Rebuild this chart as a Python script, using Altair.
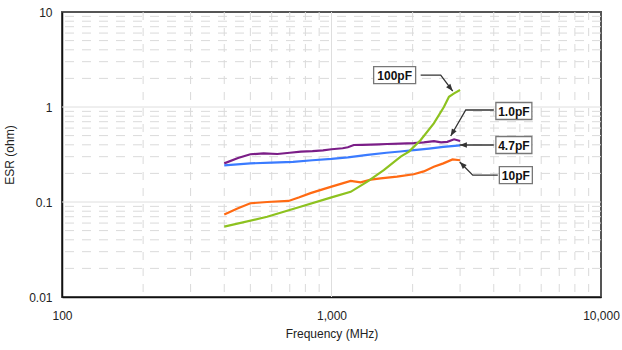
import altair as alt
import pandas as pd

# ESR versus frequency for four capacitor values
f_1p0 = [400, 450, 500, 560, 630, 700, 770, 850, 930, 1000, 1100, 1150, 1210, 1300,
         1400, 1500, 1610, 1800, 2020, 2200, 2400, 2550, 2690, 2850, 3000]
esr_1p0 = [0.255, 0.29, 0.318, 0.325, 0.32, 0.33, 0.339, 0.343, 0.35, 0.359, 0.368, 0.377,
           0.398, 0.40, 0.402, 0.405, 0.408, 0.412, 0.417, 0.425, 0.438, 0.425, 0.43, 0.457, 0.438]

f_4p7 = [400, 500, 600, 720, 850, 1000, 1150, 1360, 1600, 1800, 2020, 2300, 2600, 3000]
esr_4p7 = [0.243, 0.255, 0.26, 0.265, 0.275, 0.284, 0.295, 0.313, 0.33, 0.34, 0.352, 0.365,
           0.38, 0.395]

f_10 = [400, 450, 500, 577, 693, 760, 836, 920, 1000, 1090, 1178, 1282, 1400, 1521, 1750,
        2018, 2200, 2397, 2600, 2813, 3000]
esr_10 = [0.074, 0.086, 0.097, 0.1, 0.1026, 0.112, 0.124, 0.135, 0.145, 0.156, 0.167, 0.161,
          0.172, 0.177, 0.185, 0.196, 0.21, 0.235, 0.255, 0.281, 0.275]

f_100 = [400, 577, 767, 1000, 1178, 1358, 1563, 1806, 1938, 2143, 2397, 2612, 2728, 2850, 3000]
esr_100 = [0.055, 0.07, 0.089, 0.112, 0.128, 0.164, 0.217, 0.3, 0.339, 0.45, 0.673, 1.0,
           1.28, 1.39, 1.51]

series_names = ["1.0pF", "4.7pF", "10pF", "100pF"]
series_colors = ["#7B1E87", "#3A7BFF", "#FF6A13", "#8DC21F"]

# tick values
x_ticks = [100, 1000, 10000]
y_ticks = [0.01, 0.1, 1, 10]

# callout labels: box centre, leader path (ending at the arrow tip), arrow angle
label_text = ["100pF", "1.0pF", "4.7pF", "10pF"]
label_f = [1715, 4750, 4750, 4831]
label_esr = [2.17, 0.908, 0.398, 0.192]
leader_f = [[2142, 2542, 2817], [4001, 3149, 2769], [4001, 2991], [4141, 3343, 2991]]
leader_esr = [[2.17, 2.17, 1.47], [0.93, 0.93, 0.495], [0.398, 0.398], [0.192, 0.192, 0.264]]
arrow_angle = [141, 210, 270, 315]
box_width = [42, 36, 36, 33]

FONT = "Liberation Sans"

curves = pd.concat([
    pd.DataFrame({"f": f, "esr": e, "cap": n, "i": range(len(f))})
    for f, e, n in zip([f_1p0, f_4p7, f_10, f_100], [esr_1p0, esr_4p7, esr_10, esr_100], series_names)
])

xs = alt.Scale(type="log", domain=[100, 10000], nice=False)
ys = alt.Scale(type="log", domain=[0.01, 10], nice=False)

x_axis = alt.Axis(
    values=x_ticks, format=",", title="Frequency (MHz)", grid=False, ticks=False,
    labelPadding=13, titlePadding=7, labelFontSize=12, titleFontSize=12,
    titleFontWeight="normal", labelFont=FONT, titleFont=FONT,
    labelColor="#222", titleColor="#222", domainColor="#111", domainWidth=1.5,
    labelFlush=False)
y_axis = alt.Axis(
    values=y_ticks, format="~g", title="ESR (ohm)", grid=False, ticks=False,
    labelPadding=10, titlePadding=12, labelFontSize=12, titleFontSize=12,
    titleFontWeight="normal", labelFont=FONT, titleFont=FONT,
    labelColor="#222", titleColor="#222", domainColor="#111", domainWidth=1.5,
    labelFlush=False)


def X(field="f"):
    return alt.X(f"{field}:Q", scale=xs, axis=x_axis, title="Frequency (MHz)")


def Y(field="esr"):
    return alt.Y(f"{field}:Q", scale=ys, axis=y_axis, title="ESR (ohm)")


# grid lines
minor_x = [m * d for d in (100, 1000) for m in range(2, 10)]
minor_y = [m * d for d in (0.01, 0.1, 1) for m in range(2, 10)]
major_x = [1000]
major_y = [0.1, 1]

grid_minor_x = alt.Chart(pd.DataFrame({"f": minor_x})).mark_rule(
    color="#dadada", strokeWidth=1, strokeDash=[8, 8]
).encode(x=X())
grid_minor_y = alt.Chart(pd.DataFrame({"esr": minor_y})).mark_rule(
    color="#dadada", strokeWidth=1, strokeDash=[9, 8]
).encode(y=Y())
grid_major_x = alt.Chart(pd.DataFrame({"f": major_x})).mark_rule(
    color="#dedede", strokeWidth=1
).encode(x=X())
grid_major_y = alt.Chart(pd.DataFrame({"esr": major_y})).mark_rule(
    color="#dedede", strokeWidth=1
).encode(y=Y())

lines = alt.Chart(curves).mark_line(strokeWidth=2.2).encode(
    x=X(),
    y=Y(),
    color=alt.Color("cap:N", scale=alt.Scale(domain=series_names, range=series_colors), legend=None),
    order="i:Q",
)

leader_rows = []
for k, name in enumerate(label_text):
    for j, (lf, le) in enumerate(zip(leader_f[k], leader_esr[k])):
        leader_rows.append({"label": name, "f": lf, "esr": le, "j": j})
leaders = alt.Chart(pd.DataFrame(leader_rows)).mark_line(
    color="#333", strokeWidth=1.3
).encode(
    x=X(),
    y=Y(),
    detail="label:N",
    order="j:Q",
)

tips = pd.DataFrame({
    "f": [p[-1] for p in leader_f],
    "esr": [p[-1] for p in leader_esr],
    "angle": arrow_angle,
})
arrows = alt.Chart(tips).mark_point(
    shape="M0,0L-0.5,1.3L0.5,1.3Z", filled=True, color="#333", opacity=1, size=120
).encode(
    x=X(),
    y=Y(),
    angle=alt.Angle("angle:Q", scale=None),
)

boxes = []
for k, name in enumerate(label_text):
    d = pd.DataFrame({"f": [label_f[k]], "esr": [label_esr[k]], "t": [name]})
    boxes.append(alt.Chart(d).mark_rect(
        width=box_width[k], height=17, fill="white", stroke="#777", strokeWidth=1.3
    ).encode(x=X(), y=Y()))
label_df = pd.DataFrame({"f": label_f, "esr": label_esr, "t": label_text})
texts = alt.Chart(label_df).mark_text(
    font=FONT, fontSize=12, fontWeight="bold", color="#111", baseline="middle", align="center", dy=1
).encode(x=X(), y=Y(), text="t:N")

chart = alt.layer(
    grid_minor_x, grid_minor_y, grid_major_x, grid_major_y, lines, leaders, arrows, *boxes, texts
).properties(
    width=539, height=285,
    autosize=alt.AutoSizeParams(type="none"),
    padding={"left": 62, "top": 12, "right": 21, "bottom": 53},
    background="white",
).configure_view(stroke="#555", strokeWidth=2)

chart.save("out.html", embed_options={"renderer": "svg", "actions": False})
